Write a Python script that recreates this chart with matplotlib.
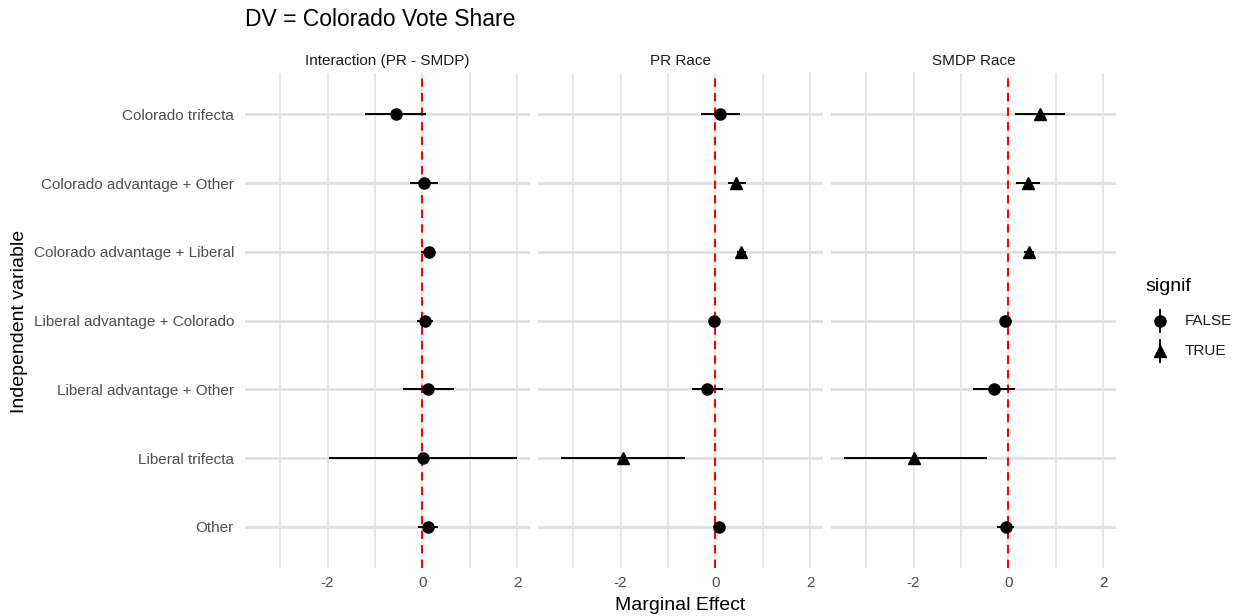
import matplotlib.pyplot as plt
from matplotlib.lines import Line2D

plt.rcParams['font.family'] = ['Liberation Sans', 'DejaVu Sans']

# Independent variables, top row first
variables = ['Colorado trifecta', 'Colorado advantage + Other',
             'Colorado advantage + Liberal', 'Liberal advantage + Colorado',
             'Liberal advantage + Other', 'Liberal trifecta', 'Other']
panels = ['Interaction (PR - SMDP)', 'PR Race', 'SMDP Race']

# Marginal effects with lower/upper interval bounds per panel
interaction_est = [-0.56, 0.03, 0.13, 0.06, 0.12, 0.01, 0.12]
interaction_lo = [-1.21, -0.27, -0.03, -0.12, -0.41, -1.97, -0.10]
interaction_hi = [0.08, 0.34, 0.29, 0.23, 0.67, 2.00, 0.34]

pr_est = [0.09, 0.44, 0.55, -0.02, -0.17, -1.95, 0.07]
pr_lo = [-0.31, 0.26, 0.45, -0.08, -0.50, -3.25, -0.05]
pr_hi = [0.51, 0.64, 0.65, 0.04, 0.16, -0.64, 0.18]

smdp_est = [0.67, 0.42, 0.43, -0.07, -0.30, -1.98, -0.05]
smdp_lo = [0.15, 0.17, 0.33, -0.18, -0.74, -3.47, -0.23]
smdp_hi = [1.19, 0.67, 0.54, 0.08, 0.15, -0.46, 0.12]

signif_interaction = [False] * 7
signif_pr = [False, True, True, False, False, True, False]
signif_smdp = [True, True, True, False, False, True, False]

series = [
    (interaction_est, interaction_lo, interaction_hi, signif_interaction),
    (pr_est, pr_lo, pr_hi, signif_pr),
    (smdp_est, smdp_lo, smdp_hi, signif_smdp),
]

W, H = 1240, 616
fig = plt.figure(figsize=(W / 100, H / 100), dpi=100)

panel_left = [245, 538, 831]
panel_w = 285
top, bottom = 73, 568

ypos = list(range(len(variables), 0, -1))
label_grey = '#4d4d4d'

for i, (name, (est, lo, hi, sig)) in enumerate(zip(panels, series)):
    ax = fig.add_axes([panel_left[i] / W, 1 - bottom / H,
                       panel_w / W, (bottom - top) / H])
    ax.set_xlim(-3.74, 2.27)
    ax.set_ylim(0.4, len(variables) + 0.6)
    for s in ax.spines.values():
        s.set_visible(False)
    for gx in [-3, -2, -1, 0, 1, 2]:
        ax.axvline(gx, color='#e6e6e6', lw=1.4, zorder=0)
    for gy in ypos:
        ax.axhline(gy, color='#e0e0e0', lw=2.0, zorder=0)
    ax.axvline(0, color='red', lw=1.5, ls=(0, (4, 3)), zorder=1)

    for y, e, l, h, s in zip(ypos, est, lo, hi, sig):
        ax.plot([l, h], [y, y], color='black', lw=1.4, zorder=2,
                solid_capstyle='butt')
        ax.plot(e, y, marker='^' if s else 'o', color='black',
                ms=9 if s else 8, zorder=3, linestyle='none')

    ax.set_xticks([-2, 0, 2])
    ax.set_xticklabels(['-2', '0', '2'])
    ax.tick_params(axis='x', length=0, pad=6, labelsize=11,
                   labelcolor=label_grey)
    ax.set_yticks(ypos)
    if i == 0:
        ax.set_yticklabels(variables)
        ax.tick_params(axis='y', length=0, pad=8, labelsize=11,
                       labelcolor=label_grey)
    else:
        ax.set_yticklabels([])
        ax.tick_params(axis='y', length=0)
    ax.set_title(name, fontsize=11, color='#1a1a1a', pad=6)

fig.text(245 / W, 1 - 20 / H, 'DV = Colorado Vote Share', fontsize=16.5,
         va='center', ha='left')
fig.text(0.5 * (245 + 1116) / W, 1 - 605 / H, 'Marginal Effect',
         fontsize=14, ha='center', va='center')
fig.text(20 / W, 1 - 321 / H, 'Independent variable', fontsize=14,
         rotation=90, ha='center', va='center')

# Legend keys: point with a vertical interval line, as in a pointrange key
fig.text(1145 / W, 1 - 287 / H, 'signif', fontsize=14, va='center')
for label, marker, ms, ky in [('FALSE', 'o', 8, 321), ('TRUE', '^', 9, 351)]:
    yk = 1 - ky / H
    fig.add_artist(Line2D([1160 / W, 1160 / W], [yk - 11 / H, yk + 11 / H],
                          color='black', lw=1.4, transform=fig.transFigure))
    fig.add_artist(Line2D([1160 / W], [yk], marker=marker, ms=ms,
                          color='black', transform=fig.transFigure))
    fig.text(1185 / W, yk, label, fontsize=11, va='center', color='#1a1a1a')

fig.savefig('out.png', dpi=100, facecolor='white')
